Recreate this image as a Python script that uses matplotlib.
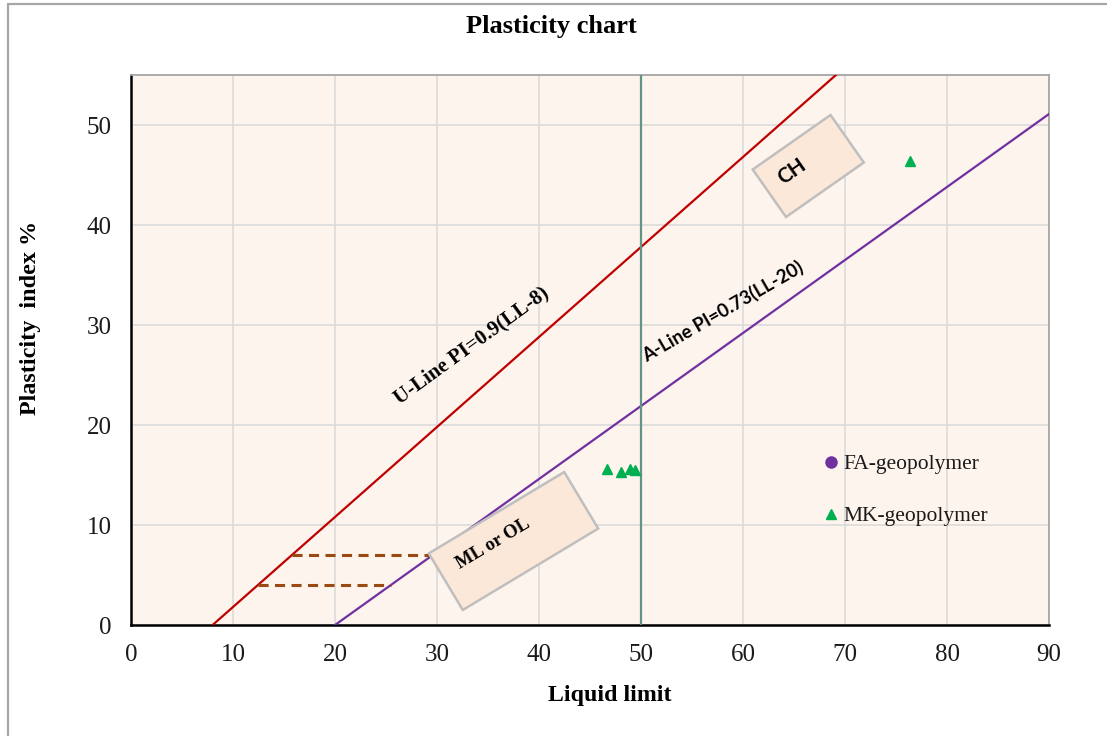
import matplotlib.pyplot as plt
import numpy as np
from matplotlib.patches import Rectangle
from matplotlib.transforms import Affine2D, ScaledTranslation

# liquid limit / plasticity index readings
MK_LL = [46.7, 48.0, 48.9, 49.4, 76.4]
MK_PI = [15.6, 15.3, 15.6, 15.5, 46.4]
FA_LL = []
FA_PI = []

# chart reference lines
U_SLOPE, U_ORIGIN = 0.9, 8
A_SLOPE, A_ORIGIN = 0.73, 20
LL_DIVIDE = 50
CL_ML_PI = [7, 4]

X_TICKS = list(range(0, 91, 10))
Y_TICKS = list(range(0, 51, 10))

SERIF = "Liberation Serif"
SANS = "Lato"
W, H = 1107, 736


def rotated_box(ax, center, w, h, angle):
    tr = (Affine2D().translate(-w / 2, -h / 2).rotate_deg(angle)
          + ScaledTranslation(center[0], center[1], ax.transData))
    box = Rectangle((0, 0), w, h, transform=tr, facecolor="#FCE8D9",
                    edgecolor="#BFBFBF", linewidth=1.8, zorder=5)
    ax.add_patch(box)


def main() -> None:
    fig = plt.figure(figsize=(W / 100, H / 100), dpi=100)
    ax = fig.add_axes([131 / W, 1 - 625 / H, 918 / W, 550 / H])
    ax.set_facecolor("#FDF4EE")

    # outer chart border (only left/top visible in the crop)
    fig.add_artist(Rectangle((8 / W, -0.1), 1.2, 1.1 - 4 / H,
                             transform=fig.transFigure, fill=False,
                             edgecolor="#A6A6A6", linewidth=1.6))

    ax.set_xlim(0, 90)
    ax.set_ylim(0, 55)
    ax.set_xticks(X_TICKS)
    ax.set_yticks(Y_TICKS)
    ax.grid(True, color="#D9D9D9", linewidth=1.1, zorder=0)
    ax.set_axisbelow(True)
    ax.tick_params(length=0, pad=14, labelsize=18)
    for lab in ax.get_xticklabels() + ax.get_yticklabels():
        lab.set_fontfamily(SERIF)
        lab.set_color("#1a1a1a")

    for side in ("left", "bottom"):
        ax.spines[side].set_color("black")
        ax.spines[side].set_linewidth(1.8)
    for side in ("top", "right"):
        ax.spines[side].set_color("#A6A6A6")
        ax.spines[side].set_linewidth(1.3)

    # U-line and A-line
    u_x = np.array([U_ORIGIN, U_ORIGIN + 55 / U_SLOPE])
    ax.plot(u_x, U_SLOPE * (u_x - U_ORIGIN), color="#C00000", lw=1.6, zorder=3)
    a_x = np.array([A_ORIGIN, 90])
    ax.plot(a_x, A_SLOPE * (a_x - A_ORIGIN), color="#7030A0", lw=1.6, zorder=3)
    ax.axvline(LL_DIVIDE, color="#5F9585", lw=1.6, zorder=3)

    # CL-ML band limits
    for pi in CL_ML_PI:
        ax.plot([pi / U_SLOPE + U_ORIGIN, pi / A_SLOPE + A_ORIGIN], [pi, pi],
                color="#9A4A12", lw=2.2, ls=(0, (3.3, 2.1)), zorder=3)

    ax.plot(FA_LL, FA_PI, "o", color="#7030A0", ms=8, ls="none",
            label="FA-geopolymer", zorder=6)
    ax.plot(MK_LL, MK_PI, "^", color="#00B050", ms=7.5, ls="none",
            label="MK-geopolymer", zorder=6)

    ax.text(33.4, 27.9, "U-Line PI=0.9(LL-8)", rotation=36,
            rotation_mode="anchor", ha="center", va="center",
            fontsize=15, fontweight="bold", fontfamily=SERIF, zorder=6)
    ax.text(58.0, 31.4, "A-Line PI=0.73(LL-20)", rotation=30,
            rotation_mode="anchor", ha="center", va="center",
            fontsize=13.5, fontweight="bold", fontfamily=SANS, zorder=6)

    rotated_box(ax, (66.4, 45.9), 95, 58, 35)
    ax.text(64.8, 45.3, "CH", rotation=35, rotation_mode="anchor",
            ha="center", va="center", fontsize=15, fontweight="bold",
            fontfamily=SANS, zorder=7)
    rotated_box(ax, (37.5, 8.4), 158, 66, 31)
    ax.text(35.5, 8.1, "ML or OL", rotation=31, rotation_mode="anchor",
            ha="center", va="center", fontsize=13.5, fontweight="bold",
            fontfamily=SERIF, zorder=7)

    leg = ax.legend(loc="center left", bbox_to_anchor=(0.755, 0.245),
                    frameon=False, prop={"family": SERIF, "size": 15.5},
                    handlelength=0.6, handletextpad=0.3, labelspacing=1.5,
                    borderpad=0, borderaxespad=0, markerscale=1.0)
    for t in leg.get_texts():
        t.set_color("#1a1a1a")

    fig.text(610 / W, 1 - 695 / H, "Liquid limit", ha="center", va="center",
             fontsize=17.2, fontweight="bold", fontfamily=SERIF)
    fig.text(31 / W, 1 - 318 / H, "Plasticity  index %", rotation=90,
             ha="center", va="center", fontsize=17.4, fontweight="bold",
             fontfamily=SERIF)
    fig.text(551 / W, 1 - 26 / H, "Plasticity chart", ha="center",
             va="center", fontsize=19, fontweight="bold", fontfamily=SERIF)

    fig.savefig("out.png", dpi=100)
    plt.close(fig)


if __name__ == "__main__":
    main()
